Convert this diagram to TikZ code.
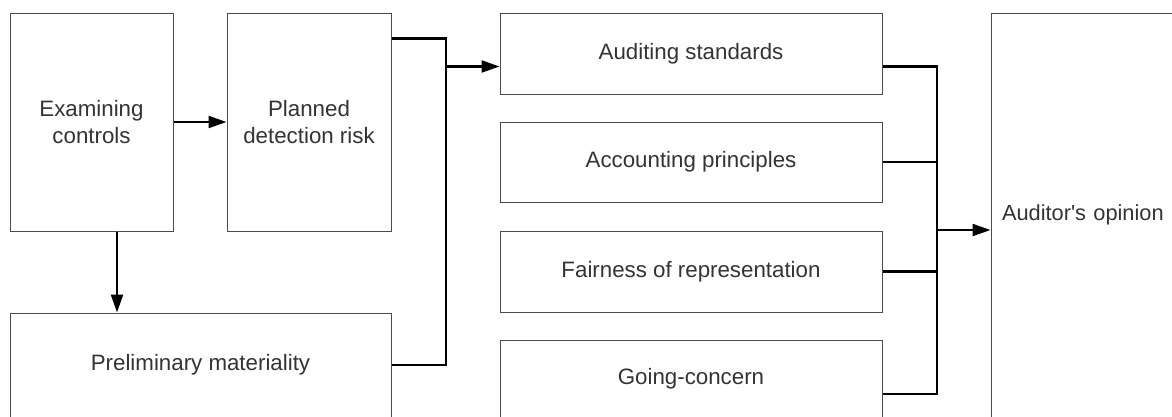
\documentclass[tikz,border=0pt]{standalone}
\usepackage{fontspec}
\setmainfont{Liberation Sans}
\usetikzlibrary{arrows.meta,calc}
\begin{document}
\begin{tikzpicture}[x=1pt,y=-1pt,
  box/.style={draw=black!70, line width=1pt, rectangle, inner sep=0pt,
    font=\fontsize{22.3pt}{27pt}\selectfont, text=black!80, align=center},
  conn/.style={draw=black, line width=2.2pt},
  arr/.style={conn, -{Triangle[length=18pt,width=12pt]}}]
\useasboundingbox (0,0) rectangle (1172,416);
\node[box, minimum width=163pt, minimum height=218pt] (ec) at (91.5,122) {Examining\\controls};
\node[box, minimum width=164pt, minimum height=218pt] (pdr) at (309,122) {Planned\\detection risk};
\node[box, minimum width=381pt, minimum height=104pt] (pm) at (200.5,365) {Preliminary materiality};
\node[box, minimum width=382pt, minimum height=81pt] (as) at (691,53.5) {Auditing standards};
\node[box, minimum width=382pt, minimum height=80pt] (ap) at (691,162) {Accounting principles};
\node[box, minimum width=382pt, minimum height=81pt] (fr) at (691,271.5) {Fairness of representation};
\node[box, minimum width=382pt, minimum height=77pt] (gc) at (691,378.5) {Going-concern};
\node[box, minimum width=194pt, minimum height=404pt, text width=182pt, align=left,
  font=\fontsize{21.8pt}{27pt}\selectfont] (ao) at (1088,215) {\hspace*{5pt}Auditor\textquotesingle s opinion};
\coordinate (busL) at (446,200);
\coordinate (busR) at (937,230);
\coordinate (asin) at ([yshift=-13pt]as.west);
% left side
\draw[arr] (ec.east) -- (pdr.west);
\draw[arr] ([xshift=25.5pt]ec.south) -- ([xshift=25.5pt]ec.south |- pm.north);
\draw[conn] ([yshift=-26pt]pdr.north east) -| (busL) |- (pm.east);
\draw[arr] (busL |- asin) -- (asin);
% right side
\draw[conn] ([yshift=-13pt]as.east) -| (busR) |- ([yshift=-15.5pt]gc.east);
\draw[conn] (ap.east) -- (ap.east -| busR);
\draw[conn] (fr.east) -- (fr.east -| busR);
\draw[arr] (busR) -- (busR -| ao.west);
\end{tikzpicture}
\end{document}
